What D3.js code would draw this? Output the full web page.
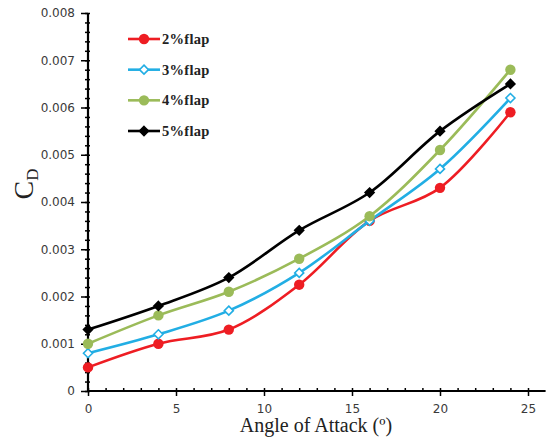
<!DOCTYPE html>
<html>
<head>
<meta charset="utf-8">
<script src="https://cdn.jsdelivr.net/npm/d3@7"></script>
<style>
body { margin: 0; background: #fff; }
.tick text { font-family: "DejaVu Sans", Verdana, sans-serif; font-size: 12px; fill: #3a3a3a; }
</style>
</head>
<body>
<script>
var angles = [0, 4, 8, 12, 16, 20, 24];
var flap2 = [0.0005, 0.0010, 0.0013, 0.00225, 0.0036, 0.0043, 0.0059];
var flap3 = [0.0008, 0.0012, 0.0017, 0.0025, 0.0036, 0.0047, 0.0062];
var flap4 = [0.0010, 0.0016, 0.0021, 0.0028, 0.0037, 0.0051, 0.0068];
var flap5 = [0.0013, 0.0018, 0.0024, 0.0034, 0.0042, 0.0055, 0.0065];
var seriesNames = ["2%flap", "3%flap", "4%flap", "5%flap"];
var xTicks = [0, 5, 10, 15, 20, 25];
var yTicks = [0, 0.001, 0.002, 0.003, 0.004, 0.005, 0.006, 0.007, 0.008];

var series = [
  {name: seriesNames[0], vals: flap2, color: "#ee1d23", marker: "circle", fill: "#ee1d23"},
  {name: seriesNames[1], vals: flap3, color: "#22aee4", marker: "diamond", fill: "#fff"},
  {name: seriesNames[2], vals: flap4, color: "#9bbb59", marker: "circle", fill: "#9bbb59"},
  {name: seriesNames[3], vals: flap5, color: "#000000", marker: "diamond", fill: "#000"}
];

var width = 547, height = 439;
var svg = d3.select("body").append("svg").attr("width", width).attr("height", height);

var x = d3.scaleLinear().domain([0, 26]).range([88, 545.6]);
var y = d3.scaleLinear().domain([0, 0.008]).range([391, 13]);

// minor ticks
svg.append("g").attr("transform", "translate(0,391)")
  .call(d3.axisTop(x).tickValues(d3.range(0, 26, 1)).tickSize(3).tickFormat(""))
  .call(function(g){ g.select(".domain").remove(); g.selectAll("line").attr("stroke-width", 1.5); });
svg.append("g").attr("transform", "translate(88,0)")
  .call(d3.axisLeft(y).tickValues(d3.range(0, 0.0081, 0.0002)).tickSize(4).tickFormat(""))
  .call(function(g){ g.select(".domain").remove(); g.selectAll("line").attr("stroke-width", 1.5).attr("x2", -3).attr("x1", 2); });

// major axes
var xAxis = svg.append("g").attr("transform", "translate(0,391)")
  .call(d3.axisBottom(x).tickValues(xTicks).tickSize(5).tickPadding(8).tickFormat(d3.format("d")));
xAxis.select(".domain").attr("stroke-width", 2.2).attr("d", "M88,0H545.6");
xAxis.selectAll("line").attr("stroke-width", 1.5);

var yAxis = svg.append("g").attr("transform", "translate(88,0)")
  .call(d3.axisLeft(y).tickValues(yTicks).tickSize(7).tickPadding(6)
    .tickFormat(function(d){ return d === 0 ? "0" : d3.format(".3f")(d); }));
yAxis.select(".domain").attr("stroke-width", 2.2).attr("d", "M0,13V391");
yAxis.selectAll("line").attr("stroke-width", 1.5);

var line = d3.line()
  .x(function(d, i){ return x(angles[i]); })
  .y(function(d){ return y(d); })
  .curve(d3.curveCatmullRom.alpha(0.5));

function drawMarker(g, s, cx, cy) {
  if (s.marker === "circle") {
    g.append("circle").attr("cx", cx).attr("cy", cy).attr("r", 5.2).attr("fill", s.fill);
  } else {
    var r = 4.5;
    g.append("path")
      .attr("d", "M" + cx + "," + (cy - r) + "L" + (cx + r) + "," + cy + "L" + cx + "," + (cy + r) + "L" + (cx - r) + "," + cy + "Z")
      .attr("fill", s.fill).attr("stroke", s.color).attr("stroke-width", 1.6);
  }
}

series.forEach(function(s) {
  var g = svg.append("g");
  g.append("path").datum(s.vals).attr("d", line)
    .attr("fill", "none").attr("stroke", s.color).attr("stroke-width", 2.6);
  s.vals.forEach(function(v, i) { drawMarker(g, s, x(angles[i]), y(v)); });
});

// legend
var legendY = d3.scalePoint().domain(seriesNames).range([39, 131]);
series.forEach(function(s) {
  var ly = legendY(s.name);
  var g = svg.append("g");
  g.append("line").attr("x1", 128).attr("x2", 160).attr("y1", ly).attr("y2", ly)
    .attr("stroke", s.color).attr("stroke-width", 2.6);
  drawMarker(g, s, 144, ly);
  g.append("text").attr("x", 162).attr("y", ly + 5).text(s.name)
    .attr("font-family", "'Liberation Serif', 'Times New Roman', serif")
    .attr("font-weight", "bold").attr("font-size", "14.5px").attr("fill", "#222")
    .attr("letter-spacing", "0.3px");
});

// axis titles
svg.append("text").attr("x", 316).attr("y", 432).attr("text-anchor", "middle")
  .attr("font-family", "'Liberation Serif', 'Times New Roman', serif").attr("font-size", "20px")
  .attr("fill", "#222").text("Angle of Attack (º)");

var yt = svg.append("text").attr("transform", "translate(33,184) rotate(-90)")
  .attr("text-anchor", "middle")
  .attr("font-family", "'Liberation Serif', 'Times New Roman', serif").attr("font-size", "28px")
  .attr("fill", "#222");
yt.append("tspan").text("C");
yt.append("tspan").attr("font-size", "17px").attr("dy", 5).text("D");
</script>
</body>
</html>
